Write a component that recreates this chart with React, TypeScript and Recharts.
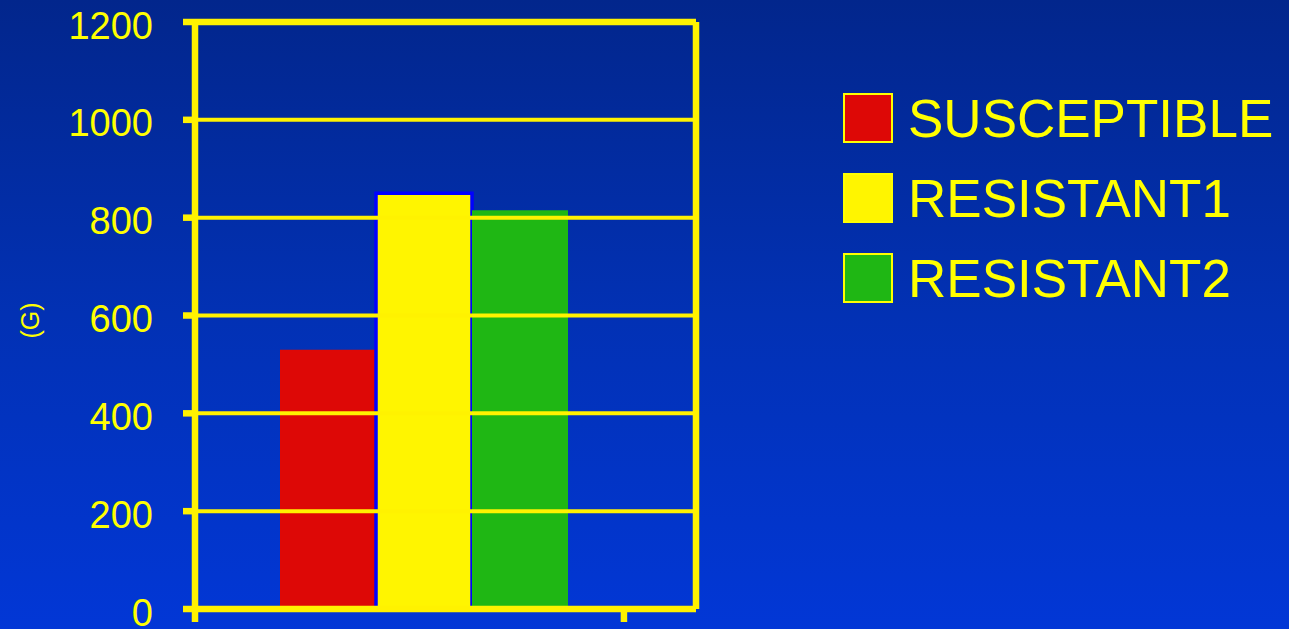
import React from "react";
import {
  Bar,
  BarChart,
  CartesianGrid,
  Legend,
  ReferenceLine,
  XAxis,
  YAxis,
} from "recharts";

const groups = ["Total"];
const seriesNames = ["SUSCEPTIBLE", "RESISTANT1", "RESISTANT2"];
const susceptible = [530];
const resistant1 = [850];
const resistant2 = [815];
const yTicks = [0, 200, 400, 600, 800, 1000, 1200];
const frameTicks = [0, 1];

const YELLOW = "#ffff00";
const LINE = "#fff200";
const FONT = '"Liberation Sans", Arial, sans-serif';

const data = groups.map((g, i) => ({
  group: g,
  slot: i,
  susceptible: susceptible[i],
  resistant1: resistant1[i],
  resistant2: resistant2[i],
}));

const YTick = ({ x, y, payload }: any) => (
  <text
    x={x}
    y={y}
    dy={16.5}
    textAnchor="end"
    fill={YELLOW}
    fontSize={38}
    fontFamily={FONT}
  >
    {payload.value}
  </text>
);

const YLabel = ({ viewBox }: any) => {
  const cx = viewBox.x + 30;
  const cy = viewBox.y + viewBox.height / 2 + 5;
  return (
    <text
      x={cx}
      y={cy}
      transform={`rotate(-90, ${cx}, ${cy})`}
      textAnchor="middle"
      dominantBaseline="central"
      fill={YELLOW}
      fontSize={25}
      fontFamily={FONT}
    >
      (G)
    </text>
  );
};

// legend rows keep the series order, not alphabetical
const LegendBox = ({ payload }: any) => {
  const items = [...(payload || [])].sort(
    (a: any, b: any) => seriesNames.indexOf(a.value) - seriesNames.indexOf(b.value)
  );
  return (
    <div style={{ fontFamily: FONT }}>
      {items.map((p: any) => (
        <div
          key={p.value}
          style={{ display: "flex", alignItems: "center", height: 80 }}
        >
          <span
            style={{
              width: 46,
              height: 46,
              background: p.color,
              border: `2px solid ${YELLOW}`,
              display: "inline-block",
            }}
          />
          <span
            style={{
              marginLeft: 15,
              fontSize: 53,
              color: YELLOW,
              whiteSpace: "nowrap",
            }}
          >
            {p.value}
          </span>
        </div>
      ))}
    </div>
  );
};

export default function App() {
  return (
    <div
      style={{
        position: "absolute",
        left: 0,
        top: 0,
        width: 1289,
        height: 629,
        background: "linear-gradient(to bottom, #02268c 0%, #0231b4 50%, #0237d6 100%)",
      }}
    >
      <BarChart
        width={1289}
        height={629}
        data={data}
        margin={{ top: 22, right: 592, bottom: 0, left: 0 }}
        barGap={0}
        barSize={96}
      >
        <XAxis
          xAxisId="cat"
          dataKey="group"
          hide
          height={0}
          padding={{ left: 0, right: 43 }}
        />
        <XAxis
          xAxisId="frame"
          dataKey="slot"
          type="number"
          domain={[0, 1.168]}
          ticks={frameTicks}
          allowDataOverflow
          height={20}
          axisLine={{ stroke: LINE, strokeWidth: 6.5 }}
          tickLine={{ stroke: LINE, strokeWidth: 6.5 }}
          tickSize={13}
          tickFormatter={() => ""}
        />
        <YAxis
          yAxisId="val"
          width={195}
          domain={[0, 1200]}
          ticks={yTicks}
          interval={0}
          axisLine={{ stroke: LINE, strokeWidth: 6.5 }}
          tickLine={{ stroke: LINE, strokeWidth: 6.5 }}
          tickSize={12}
          tickMargin={30}
          tick={<YTick />}
          label={<YLabel />}
        />
        <YAxis
          yAxisId="edge"
          orientation="right"
          width={1}
          domain={[0, 1200]}
          ticks={yTicks}
          tick={false}
          tickLine={false}
          axisLine={{ stroke: LINE, strokeWidth: 6.5 }}
        />
        <Bar
          xAxisId="cat"
          yAxisId="val"
          dataKey="susceptible"
          name={seriesNames[0]}
          fill="#dd0806"
          isAnimationActive={false}
        />
        <Bar
          xAxisId="cat"
          yAxisId="val"
          dataKey="resistant1"
          name={seriesNames[1]}
          fill="#fff500"
          stroke="#0000ff"
          strokeWidth={3.5}
          isAnimationActive={false}
        />
        <Bar
          xAxisId="cat"
          yAxisId="val"
          dataKey="resistant2"
          name={seriesNames[2]}
          fill="#1fb714"
          isAnimationActive={false}
        />
        <CartesianGrid
          xAxisId="cat"
          yAxisId="val"
          vertical={false}
          stroke={LINE}
          strokeWidth={4}
          zIndex={600}
        />
        <ReferenceLine
          xAxisId="cat"
          yAxisId="val"
          y={1200}
          stroke={LINE}
          strokeWidth={6.5}
        />
        <Legend
          layout="horizontal"
          verticalAlign="middle"
          content={<LegendBox />}
          wrapperStyle={{ left: 843, top: 78, width: 446 }}
        />
      </BarChart>
    </div>
  );
}
